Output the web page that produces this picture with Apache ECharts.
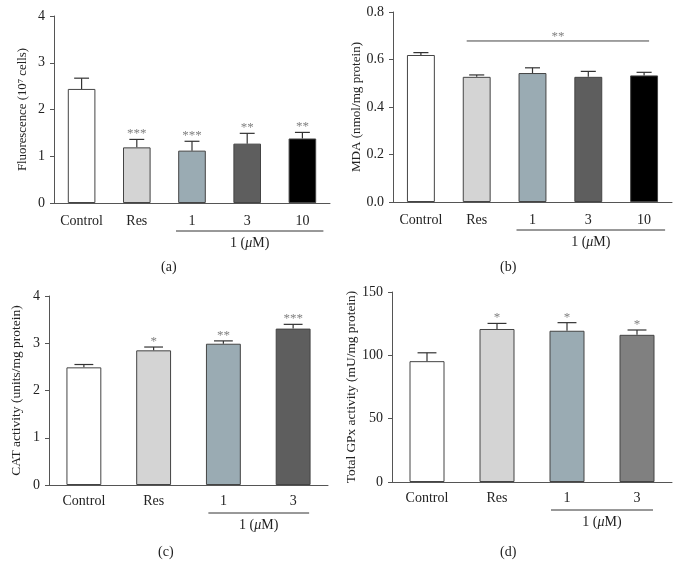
<!DOCTYPE html>
<html>
<head>
<meta charset="utf-8">
<script src="https://cdn.jsdelivr.net/npm/echarts@6/dist/echarts.min.js"></script>
<style>
  html, body { margin: 0; padding: 0; background: #fff; }
  #chart { width: 681px; height: 577px; }
</style>
</head>
<body>
<div id="chart"></div>
<script>
// (a) fluorescence
const groupsA = ["Control", "Res", "1", "3", "10"];
const fluoMean = [2.44, 1.19, 1.12, 1.27, 1.38];
const fluoSem = [0.23, 0.17, 0.2, 0.22, 0.13];
const fluoStars = ["", "***", "***", "**", "**"];
const fluoTicks = [0, 1, 2, 3, 4];

// (b) MDA
const mdaMean = [0.619, 0.527, 0.543, 0.527, 0.533];
const mdaSem = [0.01, 0.008, 0.022, 0.023, 0.013];
const mdaSig = [[1, 4, 0.678, "**"]]; // from group, to group, height, stars
const mdaTicks = [0, 0.2, 0.4, 0.6, 0.8];

// (c) CAT
const groupsC = ["Control", "Res", "1", "3"];
const catMean = [2.49, 2.85, 2.99, 3.31];
const catSem = [0.06, 0.07, 0.06, 0.09];
const catStars = ["", "*", "**", "***"];
const catTicks = [0, 1, 2, 3, 4];

// (d) GPx
const gpxMean = [95.4, 120.8, 119.4, 116.2];
const gpxSem = [6.6, 4.4, 6.4, 3.8];
const gpxStars = ["", "*", "*", "*"];
const gpxTicks = [0, 50, 100, 150];

const colorsFive = ["#ffffff", "#d4d4d4", "#9aabb3", "#5e5e5e", "#000000"];
const colorsD = ["#ffffff", "#d4d4d4", "#9aabb3", "#808080"];

const FONT = "Liberation Serif";
const chart = echarts.init(document.getElementById("chart"));

const grids = [
  { left: 54, top: 16, width: 276, height: 187 },
  { left: 393, top: 12, width: 279, height: 190 },
  { left: 49, top: 296, width: 279, height: 189 },
  { left: 392, top: 292, width: 280, height: 190 }
];

function makeX(i, cats, margin) {
  return {
    type: "category",
    gridIndex: i,
    data: cats,
    axisLine: { lineStyle: { color: "#555", width: 1 } },
    axisTick: { alignWithLabel: true, length: 4, lineStyle: { color: "#555" } },
    axisLabel: { interval: 0, fontFamily: FONT, fontSize: 14, color: "#222", margin: margin }
  };
}

function makeY(i, name, nameSize, gap, ticks, digits) {
  return {
    type: "value",
    gridIndex: i,
    min: ticks[0],
    max: ticks[ticks.length - 1],
    interval: ticks[1] - ticks[0],
    name: name,
    nameLocation: "middle",
    nameGap: gap,
    nameTextStyle: { fontFamily: FONT, fontSize: nameSize, color: "#222" },
    splitLine: { show: false },
    axisLine: { show: true, lineStyle: { color: "#555", width: 1 } },
    axisTick: { show: true, length: 4, lineStyle: { color: "#555" } },
    axisLabel: {
      fontFamily: FONT, fontSize: 14, color: "#222", margin: 9,
      formatter: (v) => v.toFixed(digits)
    }
  };
}

function barSeries(i, means, colors) {
  return {
    type: "bar",
    xAxisIndex: i,
    yAxisIndex: i,
    barWidth: "50%",
    data: means.map((v, k) => ({
      value: v,
      itemStyle: { color: colors[k], borderColor: "#444", borderWidth: 1 }
    })),
    z: 2
  };
}

// upward error bar plus significance stars
function errSeries(i, means, sems, stars) {
  return {
    type: "custom",
    xAxisIndex: i,
    yAxisIndex: i,
    z: 3,
    data: means.map((m, k) => [k, m, m + sems[k]]),
    renderItem: (params, api) => {
      const base = api.coord([api.value(0), api.value(1)]);
      const top = api.coord([api.value(0), api.value(2)]);
      const band = api.size([1, 0])[0];
      const half = band * 0.5 * 0.27;
      const star = stars ? stars[params.dataIndex] : "";
      const kids = [
        { type: "line", shape: { x1: base[0], y1: base[1], x2: top[0], y2: top[1] },
          style: { stroke: "#333", lineWidth: 1.2 } },
        { type: "line", shape: { x1: top[0] - half, y1: top[1], x2: top[0] + half, y2: top[1] },
          style: { stroke: "#333", lineWidth: 1.2 } }
      ];
      if (star) {
        kids.push({ type: "text", x: top[0], y: top[1] + 1,
          style: { text: star, fontFamily: FONT, fontSize: 13, fill: "#808080",
                   align: "center", verticalAlign: "bottom" } });
      }
      return { type: "group", children: kids };
    }
  };
}

// bracket under the dose groups: 1 (μM)
function doseSeries(i, from, to, padL, padR) {
  return {
    type: "custom",
    xAxisIndex: i,
    yAxisIndex: i,
    clip: false,
    data: [[from, to]],
    renderItem: (params, api) => {
      const a = api.coord([api.value(0), 0]);
      const b = api.coord([api.value(1), 0]);
      const x1 = a[0] - padL, x2 = b[0] + padR, y = a[1] + 28;
      return { type: "group", children: [
        { type: "line", shape: { x1: x1, y1: y, x2: x2, y2: y },
          style: { stroke: "#333", lineWidth: 1 } },
        { type: "text", x: (x1 + x2) / 2, y: y + 12,
          style: { text: "1 ({i|μ}M)", fontFamily: FONT, fontSize: 14, fill: "#222",
                   align: "center", verticalAlign: "middle",
                   rich: { i: { fontFamily: FONT, fontStyle: "italic", fontSize: 14, fill: "#222" } } } }
      ] };
    }
  };
}

function sigSeries(i, rows) {
  return {
    type: "custom",
    xAxisIndex: i,
    yAxisIndex: i,
    clip: false,
    data: rows,
    renderItem: (params, api) => {
      const a = api.coord([api.value(0), api.value(2)]);
      const b = api.coord([api.value(1), api.value(2)]);
      const x1 = a[0] - 10, x2 = b[0] + 5;
      return { type: "group", children: [
        { type: "line", shape: { x1: x1, y1: a[1], x2: x2, y2: a[1] },
          style: { stroke: "#444", lineWidth: 1 } },
        { type: "text", x: (x1 + x2) / 2, y: a[1] + 2,
          style: { text: rows[params.dataIndex][3], fontFamily: FONT, fontSize: 13,
                   fill: "#808080", align: "center", verticalAlign: "bottom" } }
      ] };
    }
  };
}

function panelLabel(text, x, y) {
  return { type: "text", left: x, top: y,
    style: { text: text, fontFamily: FONT, fontSize: 14, fill: "#222" } };
}

chart.setOption({
  animation: false,
  grid: grids,
  xAxis: [makeX(0, groupsA, 11), makeX(1, groupsA, 11), makeX(2, groupsC, 9), makeX(3, groupsC, 9)],
  yAxis: [
    makeY(0, "Fluorescence (10⁷ cells)", 12.8, 25, fluoTicks, 0),
    makeY(1, "MDA (nmol/mg protein)", 13.1, 30, mdaTicks, 1),
    makeY(2, "CAT activity (units/mg protein)", 13.5, 26, catTicks, 0),
    makeY(3, "Total GPx activity (mU/mg protein)", 13.4, 32, gpxTicks, 0)
  ],
  graphic: [
    panelLabel("(a)", 161, 260),
    panelLabel("(b)", 500, 260),
    panelLabel("(c)", 158, 545),
    panelLabel("(d)", 500, 545)
  ],
  series: [
    barSeries(0, fluoMean, colorsFive),
    errSeries(0, fluoMean, fluoSem, fluoStars),
    doseSeries(0, 2, 4, 16, 21),
    barSeries(1, mdaMean, colorsFive),
    errSeries(1, mdaMean, mdaSem, null),
    sigSeries(1, mdaSig),
    doseSeries(1, 2, 4, 16, 21),
    barSeries(2, catMean, colorsFive),
    errSeries(2, catMean, catSem, catStars),
    doseSeries(2, 2, 3, 15, 16),
    barSeries(3, gpxMean, colorsD),
    errSeries(3, gpxMean, gpxSem, gpxStars),
    doseSeries(3, 2, 3, 16, 16)
  ]
});
</script>
</body>
</html>
